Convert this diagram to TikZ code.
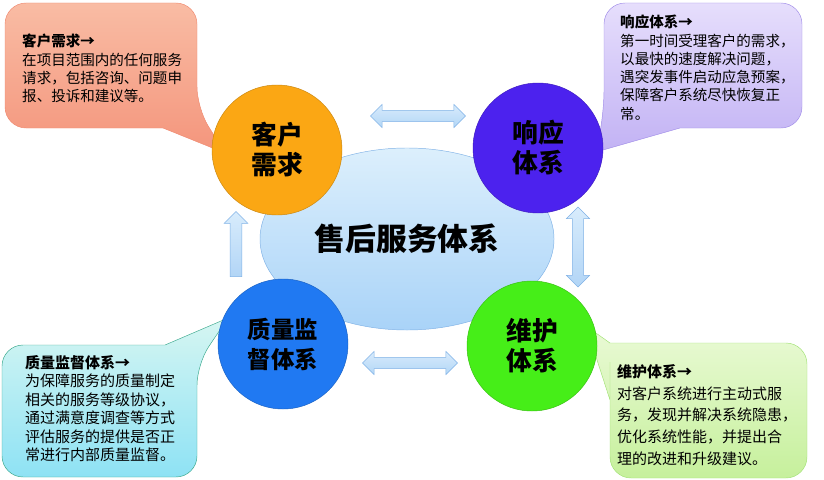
\documentclass[tikz,border=0pt]{standalone}
\usepackage{fontspec}
\setmainfont{Noto Sans CJK SC}
\usetikzlibrary{shapes.geometric,shapes.arrows,calc}

\definecolor{kehuc}{HTML}{FBA714}
\definecolor{xiangc}{HTML}{4C22EE}
\definecolor{zhilc}{HTML}{2079F2}
\definecolor{weihc}{HTML}{46EE18}
\definecolor{arrline}{HTML}{80B2E6}
\definecolor{arrtop}{HTML}{D8ECFC}
\definecolor{arrbot}{HTML}{B2D5F6}
\definecolor{hubtop}{HTML}{DCEFFC}
\definecolor{hubbot}{HTML}{A9D3F8}
\definecolor{kline}{HTML}{F08A70}
\definecolor{ktop}{HTML}{F9BCA4}
\definecolor{kbot}{HTML}{F4957C}
\definecolor{xline}{HTML}{A08CE8}
\definecolor{xtop}{HTML}{E6DEFC}
\definecolor{xbot}{HTML}{C2B2F4}
\definecolor{zline}{HTML}{3AA88C}
\definecolor{ztop}{HTML}{D6F6F2}
\definecolor{zbot}{HTML}{8EE2F4}
\definecolor{wline}{HTML}{A2E276}
\definecolor{wtop}{HTML}{EAFAD6}
\definecolor{wbot}{HTML}{C6F09C}

\begin{document}
\begin{tikzpicture}[x=0.03cm,y=-0.03cm,
    part/.style={circle,draw=#1!80!black,fill=#1,minimum size=3.9cm,inner sep=0pt,
      align=center,font=\fontsize{22}{25.6}\selectfont\bfseries},
    link/.style={double arrow,draw=arrline,top color=arrtop,bottom color=arrbot,
      inner sep=0.16cm,double arrow head extend=0.18cm,minimum height=#1},
    note/.style={anchor=north west,align=left,inner sep=0pt,
      font=\fontsize{12.4}{15.6}\selectfont}]
  \useasboundingbox (0,0) rectangle (824,479);

  % call-outs
  \draw[draw=kline,top color=ktop,bottom color=kbot,rounded corners=18]
    (163,128) -- (5,128) -- (5,3) -- (197,3) -- (197,108) [sharp corners] -- (225,153) -- cycle;
  \draw[draw=xline,top color=xtop,bottom color=xbot,rounded corners=18]
    (680,128) -- (802,128) -- (802,3) -- (604,3) -- (604,112) [sharp corners] -- (596,152) -- cycle;
  \draw[draw=zline,top color=ztop,bottom color=zbot,rounded corners=18]
    (165,345) -- (2,345) -- (2,477) -- (197,477) -- (197,364) [sharp corners] -- (228,318) -- cycle;
  \draw[draw=wline,top color=wtop,bottom color=wbot,rounded corners=18]
    (610,362) -- (610,478) -- (807,478) -- (807,343) -- (630,343) [sharp corners] -- (610,343) -- (586,326) -- (610,400) -- cycle;

  % centre
  \node[ellipse,draw=arrline,top color=hubtop,bottom color=hubbot,minimum width=8.82cm,
    minimum height=5.46cm,font=\fontsize{26.3}{30}\selectfont\bfseries] (hub) at (407,239) {售后服务体系};

  \node[part=kehuc] (kehu) at (277,150) {客户\\需求};
  \node[part=xiangc] (xiang) at (538,148) {响应\\体系};
  \node[part=zhilc,font=\fontsize{20}{25.6}\selectfont\bfseries] (zhil) at (283,344) {质量监\\督体系};
  \node[part=weihc] (weih) at (532,346) {维护\\体系};

  % arrows between the parts
  \node[link=2.85cm] (kx) at (418,116) {};
  \node[link=2.4cm,shape border rotate=90] (xw) at (578,247) {};
  \node[link=2.85cm] (wz) at (410,363) {};
  \node[single arrow,draw=arrline,top color=arrtop,bottom color=arrbot,inner sep=0.17cm,
    single arrow head extend=0.18cm,minimum height=1.95cm,shape border rotate=90] (zk) at (236,247) {};

  % texts
  \node[note] (kehutxt) at (22,34) {{\bfseries 客户需求→}\\在项目范围内的任何服务\\请求，包括咨询、问题申\\报、投诉和建议等。};
  \node[note] (xiangtxt) at (620,15) {{\bfseries 响应体系→}\\第一时间受理客户的需求，\\以最快的速度解决问题，\\遇突发事件启动应急预案，\\保障客户系统尽快恢复正\\常。};
  \node[note,font=\fontsize{12.8}{15.8}\selectfont] (zhiltxt) at (25,355) {{\bfseries 质量监督体系→}\\为保障服务的质量制定\\相关的服务等级协议，\\通过满意度调查等方式\\评估服务的提供是否正\\常进行内部质量监督。};
  \node[note,font=\fontsize{12.8}{18.6}\selectfont] (weihtxt) at (617,364) {{\bfseries 维护体系→}\\对客户系统进行主动式服\\务，发现并解决系统隐患，\\优化系统性能，并提出合\\理的改进和升级建议。};
\end{tikzpicture}
\end{document}
